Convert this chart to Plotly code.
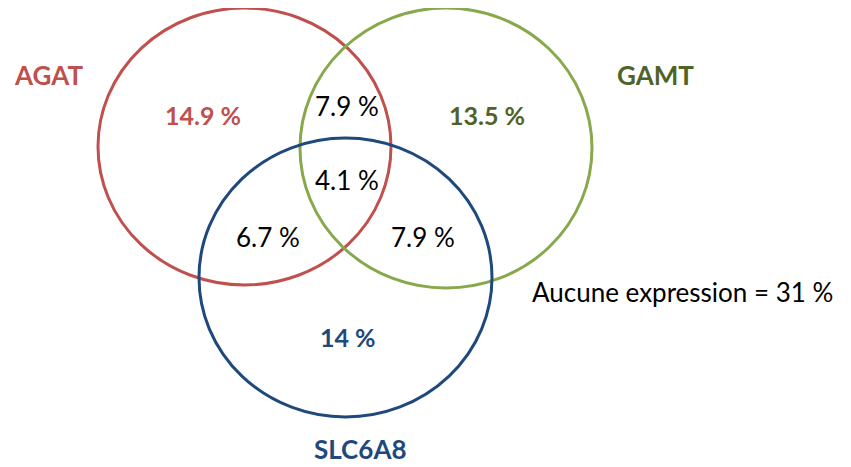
import plotly.graph_objects as go

# Data
sets = ["AGAT", "GAMT", "SLC6A8"]
only_pct = ["14.9 %", "13.5 %", "14 %"]
pair_labels = ["AGAT∩GAMT", "AGAT∩SLC6A8", "GAMT∩SLC6A8"]
pair_pct = ["7.9 %", "6.7 %", "7.9 %"]
triple_pct = "4.1 %"
none_label = "Aucune expression = 31 %"

# Styling / geometry (pixel space of the page)
line_colors = ["#C0504D", "#88A84C", "#1F497D"]
text_colors = ["#C0504D", "#4F6228", "#1F497D"]
ellipses = [(98, 8, 391, 285), (300, 8, 592, 288), (199, 138, 492, 417)]
name_pos = [(48, 75), (655, 75), (360, 449)]
only_pos = [(203, 115), (487, 115), (348, 337)]
pair_pos = [(347, 106), (268, 237), (423, 237)]
triple_pos = (347, 180)
none_pos = (682, 292)

FONT = "Lato"
OFF = 8  # default page body margin
fig = go.Figure()
fig.add_trace(go.Scatter(x=[OFF, 851], y=[OFF, 467], mode="markers",
                         marker=dict(opacity=0), hoverinfo="skip", showlegend=False))

for (x0, y0, x1, y1), c in zip(ellipses, line_colors):
    fig.add_shape(type="circle", xref="x", yref="y", x0=x0, y0=y0, x1=x1, y1=y1,
                  line=dict(color=c, width=3))

ann = []
for s, (x, y), c in zip(sets, name_pos, text_colors):
    ann.append(dict(x=x, y=y, text=f"<b>{s}</b>", font=dict(size=26, color=c, family=FONT)))
for p, (x, y), c in zip(only_pct, only_pos, text_colors):
    ann.append(dict(x=x, y=y, text=f"<b>{p}</b>", font=dict(size=25, color=c, family=FONT)))
for p, (x, y) in zip(pair_pct, pair_pos):
    ann.append(dict(x=x, y=y, text=p, font=dict(size=26, color="#000000", family=FONT)))
ann.append(dict(x=triple_pos[0], y=triple_pos[1], text=triple_pct,
                font=dict(size=26, color="#000000", family=FONT)))
ann.append(dict(x=none_pos[0], y=none_pos[1], text=none_label,
                font=dict(size=26, color="#000000", family=FONT)))
for a in ann:
    a.update(xref="x", yref="y", showarrow=False, xanchor="center", yanchor="middle")

fig.update_layout(
    width=851 - OFF, height=467 - OFF, margin=dict(l=0, r=0, t=0, b=0),
    paper_bgcolor="white", plot_bgcolor="white",
    xaxis=dict(range=[OFF, 851], visible=False, fixedrange=True),
    yaxis=dict(range=[467, OFF], visible=False, fixedrange=True),
    annotations=ann, showlegend=False,
)
fig.write_html("out.html")
